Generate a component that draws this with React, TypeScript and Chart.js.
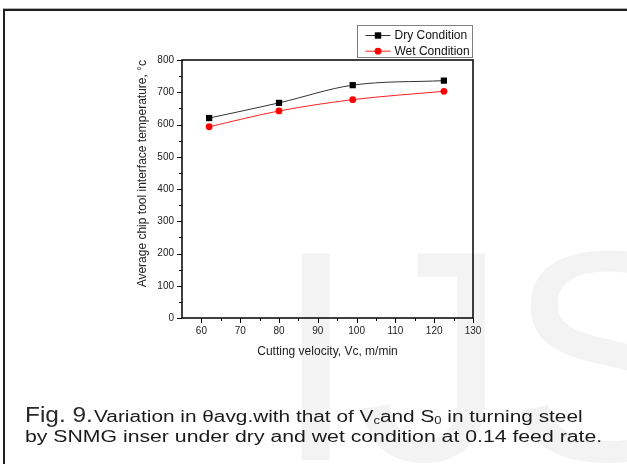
import React, { useEffect, useRef } from "react";
import { Chart, registerables } from "chart.js";

Chart.register(...registerables);

// ---- data ----
const velocities = [62, 80, 99, 122.5];
const dryTemps = [620, 667, 722, 736];
const wetTemps = [593, 642, 677, 703];
const seriesLabels = ["Dry Condition", "Wet Condition"];
const xTickValues = [60, 70, 80, 90, 100, 110, 120, 130];
const yTickValues = [0, 100, 200, 300, 400, 500, 600, 700, 800];
const xTitle = "Cutting velocity, Vc, m/min";
const yTitle = "Average chip tool interface temperature, \u00B0c";
const watermarkText = "IJSER";

const FONT = '"Liberation Sans", Arial, Helvetica, sans-serif';

const watermarkPlugin = {
  id: "watermark",
  beforeDraw(chart: any) {
    const { ctx } = chart;
    ctx.save();
    ctx.font = `300px "Liberation Sans"`;
    ctx.fillStyle = "#f3f3f3";
    ctx.textBaseline = "alphabetic";
    ctx.textAlign = "left";
    ctx.fillText(watermarkText, 274, 460);
    ctx.restore();
  },
};

const framePlugin = {
  id: "frameTicks",
  afterDraw(chart: any) {
    const { ctx, chartArea: a, scales } = chart;
    const xs = scales.x;
    const ys = scales.y;
    ctx.save();
    ctx.strokeStyle = "#000";
    ctx.lineWidth = 1;
    const seg = (x1: number, y1: number, x2: number, y2: number) => {
      ctx.beginPath();
      ctx.moveTo(x1, y1);
      ctx.lineTo(x2, y2);
      ctx.stroke();
    };
    // x ticks
    xTickValues.forEach((v, i) => {
      const px = Math.round(xs.getPixelForValue(v)) + 0.5;
      seg(px, a.bottom, px, a.bottom + 5);
      if (i < xTickValues.length - 1) {
        const m = Math.round(xs.getPixelForValue((v + xTickValues[i + 1]) / 2)) + 0.5;
        seg(m, a.bottom, m, a.bottom + 3);
      }
    });
    // y ticks
    yTickValues.forEach((v, i) => {
      const py = Math.round(ys.getPixelForValue(v)) + 0.5;
      seg(a.left, py, a.left - 5, py);
      if (i < yTickValues.length - 1) {
        const m = Math.round(ys.getPixelForValue((v + yTickValues[i + 1]) / 2)) + 0.5;
        seg(a.left, m, a.left - 3, m);
      }
    });
    // frame
    ctx.lineWidth = 1.5;
    ctx.strokeRect(a.left, a.top, a.right - a.left, a.bottom - a.top);

    // legend
    const bx = a.right - 115.5;
    const by = a.top - 34.5;
    ctx.lineWidth = 1;
    ctx.strokeStyle = "#808080";
    ctx.strokeRect(bx, by, 115, 32);
    chart.data.datasets.forEach((ds: any, i: number) => {
      const cy = by + 10 + i * 15.7;
      ctx.strokeStyle = ds.borderColor;
      ctx.lineWidth = 1;
      seg(bx + 8, cy, bx + 33, cy);
      ctx.fillStyle = ds.pointBackgroundColor;
      const mx = bx + 20.5;
      if (ds.pointStyle === "rect") {
        ctx.fillRect(mx - 3.2, cy - 3.2, 6.4, 6.4);
      } else {
        ctx.beginPath();
        ctx.arc(mx, cy, 3.4, 0, Math.PI * 2);
        ctx.fill();
      }
      ctx.fillStyle = "#111";
      ctx.font = `12px ${FONT}`;
      ctx.textBaseline = "middle";
      ctx.textAlign = "left";
      ctx.fillText(ds.label, bx + 37, cy + 0.5);
    });
    ctx.restore();
  },
};

export default function App() {
  const ref = useRef<HTMLCanvasElement>(null);

  useEffect(() => {
    const canvas = ref.current;
    if (!canvas) return;
    const chart = new Chart(canvas, {
      type: "line",
      data: {
        datasets: [
          {
            label: seriesLabels[0],
            data: velocities.map((x, i) => ({ x, y: dryTemps[i] })),
            borderColor: "#333333",
            backgroundColor: "#000000",
            pointBackgroundColor: "#000000",
            pointBorderColor: "#000000",
            pointStyle: "rect",
            pointRadius: 4.4,
            pointBorderWidth: 0,
            borderWidth: 1,
            cubicInterpolationMode: "monotone",
          },
          {
            label: seriesLabels[1],
            data: velocities.map((x, i) => ({ x, y: wetTemps[i] })),
            borderColor: "#ff2020",
            backgroundColor: "#ff0000",
            pointBackgroundColor: "#ff0000",
            pointBorderColor: "#ff0000",
            pointStyle: "circle",
            pointRadius: 3.4,
            pointBorderWidth: 0,
            borderWidth: 1,
            cubicInterpolationMode: "monotone",
          },
        ],
      },
      options: {
        responsive: false,
        maintainAspectRatio: false,
        animation: false,
        devicePixelRatio: 1,
        layout: { padding: { left: 120, top: 60, right: 154, bottom: 96 } },
        plugins: {
          legend: { display: false },
          tooltip: { enabled: false },
        },
        scales: {
          x: {
            type: "linear",
            min: 55,
            max: 130,
            afterBuildTicks: (scale: any) => {
              scale.ticks = xTickValues.map((v) => ({ value: v }));
            },
            afterFit: (scale: any) => {
              scale.height = 50;
            },
            grid: { display: false, drawTicks: false },
            border: { display: false },
            ticks: {
              padding: 7.5,
              color: "#222",
              font: { size: 10, family: FONT },
              maxRotation: 0,
              autoSkip: false,
            },
            title: {
              display: true,
              text: xTitle,
              color: "#222",
              font: { size: 12, family: FONT },
              padding: { top: 0, bottom: 8.8 },
            },
          },
          y: {
            type: "linear",
            min: 0,
            max: 800,
            afterBuildTicks: (scale: any) => {
              scale.ticks = yTickValues.map((v) => ({ value: v }));
            },
            afterFit: (scale: any) => {
              scale.width = 62;
            },
            grid: { display: false, drawTicks: false },
            border: { display: false },
            ticks: {
              padding: 8,
              color: "#222",
              font: { size: 10, family: FONT },
              autoSkip: false,
            },
            title: {
              display: true,
              text: yTitle,
              align: "end",
              color: "#222",
              font: { size: 12, family: FONT },
              padding: { top: 15.8, bottom: 0 },
            },
          },
        },
      },
      plugins: [watermarkPlugin, framePlugin],
    } as any);
    return () => chart.destroy();
  }, []);

  const subStyle: React.CSSProperties = {
    fontSize: "10px",
    verticalAlign: "-2px",
    lineHeight: 0,
  };

  return (
    <div
      style={{
        position: "absolute",
        left: 0,
        top: 0,
        width: 627,
        height: 464,
        overflow: "hidden",
        background: "#fff",
        fontFamily: FONT,
      }}
    >
      <canvas
        ref={ref}
        width={627}
        height={464}
        style={{ position: "absolute", left: 0, top: 0 }}
      />
      <div
        style={{
          position: "absolute",
          left: 3,
          top: 9,
          width: 700,
          height: 600,
          borderTop: "2px solid #1e1e1e",
          borderLeft: "2px solid #1e1e1e",
          boxShadow: "0 -1px 0 #b0b0b0",
        }}
      />
      <div
        style={{
          position: "absolute",
          left: 25,
          top: 401.7,
          fontSize: "22px",
          lineHeight: "26px",
          whiteSpace: "nowrap",
          color: "#2a2a2a",
          transform: "scaleX(1.11)",
          transformOrigin: "left",
        }}
      >
        Fig. 9.
      </div>
      <div
        style={{
          position: "absolute",
          left: 94,
          top: 406.75,
          fontSize: "16px",
          lineHeight: "20px",
          whiteSpace: "nowrap",
          color: "#1a1a1a",
          transform: "scaleX(1.30)",
          transformOrigin: "left",
        }}
      >
        Variation in θavg.with that of V<span style={subStyle}>c</span>and S
        <span style={subStyle}>0</span> in turning steel
      </div>
      <div
        style={{
          position: "absolute",
          left: 25,
          top: 426.75,
          fontSize: "16px",
          lineHeight: "20px",
          whiteSpace: "nowrap",
          color: "#1a1a1a",
          transform: "scaleX(1.327)",
          transformOrigin: "left",
        }}
      >
        by SNMG inser under dry and wet condition at 0.14 feed rate.
      </div>
    </div>
  );
}
